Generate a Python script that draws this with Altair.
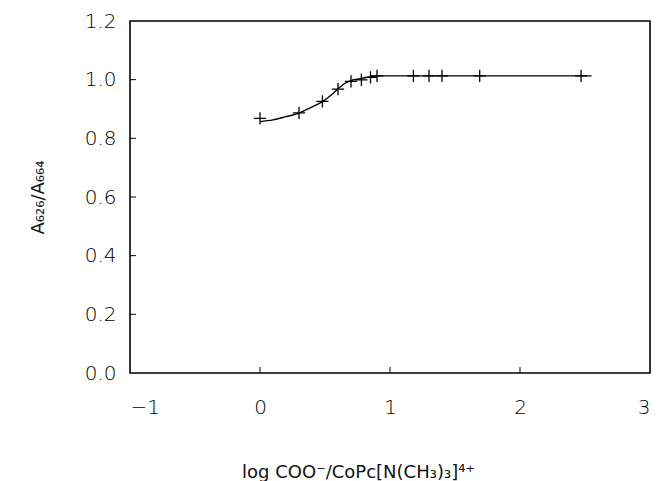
import altair as alt
import pandas as pd

# measured data points (+ markers)
pts_x = [0.0, 0.30, 0.48, 0.60, 0.70, 0.78, 0.85, 0.90, 1.18, 1.30, 1.40, 1.69, 2.47]
pts_y = [0.868, 0.887, 0.926, 0.968, 0.994, 0.999, 1.008, 1.013, 1.013, 1.013, 1.013, 1.013, 1.013]

# fitted curve
curve_x = [0.0, 0.10, 0.20, 0.30, 0.39, 0.48, 0.56, 0.60, 0.65, 0.70, 0.77, 0.85, 0.90, 1.20, 1.60, 2.00, 2.55]
curve_y = [0.857, 0.863, 0.874, 0.886, 0.905, 0.925, 0.952, 0.968, 0.987, 0.997, 1.003, 1.010, 1.013, 1.013, 1.013, 1.013, 1.013]

x_ticks = [-1, 0, 1, 2, 3]
y_ticks = [0.0, 0.2, 0.4, 0.6, 0.8, 1.0, 1.2]
x_inner_ticks = [0, 1, 2]
y_inner_ticks = [0.2, 0.4, 0.6, 0.8, 1.0]

FONT = "DejaVu Sans"
X_TITLE = "log  COO⁻/CoPc[N(CH₃)₃]⁴⁺"
Y_TITLE = "A₆₂₆/A₆₆₄"

pts = pd.DataFrame({"x": pts_x, "y": pts_y})
curve = pd.DataFrame({"x": curve_x, "y": curve_y})
xt = pd.DataFrame({"x": x_inner_ticks})
yt = pd.DataFrame({"y": y_inner_ticks})

xscale = alt.Scale(domain=[-1, 3], nice=False, zero=False)
yscale = alt.Scale(domain=[0, 1.2], nice=False)

xaxis = alt.Axis(
    values=x_ticks, format="d", title=X_TITLE,
    grid=False, ticks=False, domain=False, labelFontSize=20, labelFont=FONT,
    labelFontWeight=200, labelColor="black", labelPadding=24, titleFont=FONT,
    titleFontSize=18, titleFontWeight="normal", titleColor="#111111", titleX=228, titleY=99,
    titleAlign="center", titleBaseline="middle")
yaxis = alt.Axis(
    values=y_ticks, format=".1f", title=Y_TITLE,
    grid=False, ticks=False, domain=False, labelFontSize=20, labelFont=FONT,
    labelFontWeight=200, labelColor="black", labelPadding=14, titleFont=FONT,
    titleFontSize=18, titleFontWeight="normal", titleColor="#111111", titleX=-92, titleY=176,
    titleAngle=270, titleAlign="center", titleBaseline="middle")

X = alt.X("x:Q", scale=xscale, axis=xaxis, title=X_TITLE)
Y = alt.Y("y:Q", scale=yscale, axis=yaxis, title=Y_TITLE)

line = alt.Chart(curve).mark_line(color="black", strokeWidth=1.4, interpolate="monotone").encode(x=X, y=Y)

points = alt.Chart(pts).mark_point(
    shape="M-1,0L1,0M0,-1L0,1", size=150, filled=False, stroke="black", strokeWidth=1.3, opacity=1
).encode(x=X, y=Y)

xtick_marks = alt.Chart(xt).mark_rule(color="black", strokeWidth=1).encode(
    x=X, y=alt.value(352), y2=alt.value(346),
)

ytick_marks = alt.Chart(yt).mark_rule(color="black", strokeWidth=1).encode(
    y=Y, x=alt.value(0), x2=alt.value(6),
)

chart = alt.layer(line, points, xtick_marks, ytick_marks).properties(
    width=520, height=352,
    autosize=alt.AutoSizeParams(type="none"),
    padding={"left": 122, "top": 13, "right": 1, "bottom": 120},
    background="white",
).configure_view(stroke="black", strokeWidth=1.6)

chart.save("out.html", embed_options={"renderer": "svg", "actions": False})
